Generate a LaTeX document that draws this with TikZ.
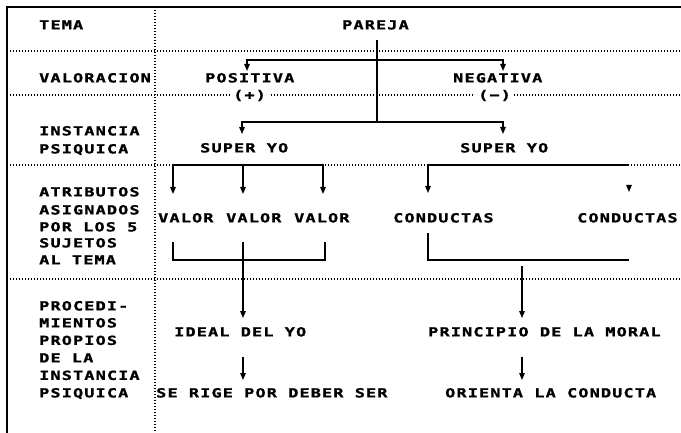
\documentclass[tikz,border=0pt]{standalone}
\usepackage{fontspec}
\newfontfamily\dm{DejaVu Sans Mono Bold}[FakeStretch=1.35,LetterSpace=9,FakeBold=1.2]
\usetikzlibrary{arrows.meta}
\begin{document}
\begin{tikzpicture}[x=1pt,y=-1pt,
  lbl/.style={inner sep=0pt, anchor=base west, font=\dm\fontsize{12.5}{14}\selectfont},
  sgn/.style={lbl, fill=white, inner xsep=3pt},
  border/.style={line width=1.6pt},
  dotline/.style={line width=1.4pt, dash pattern=on 1.4pt off 1.6pt},
  conn/.style={line width=1.3pt},
  tip/.style={-{Triangle[length=7pt,width=5.5pt]}},
  arr/.style={conn, tip},
  barr/.style={conn, {Triangle[length=7pt,width=5.5pt]}-{Triangle[length=7pt,width=5.5pt]}},
]
\fill[white] (0,0) rectangle (681,433);
\useasboundingbox (0,0) rectangle (681,433);

% frame and grid
\coordinate (tl) at (7,7);
\coordinate (tr) at (681,7);
\coordinate (bl) at (7,433);
\coordinate (ct) at (155,7);
\coordinate (cb) at (155,433);
\draw[border] (tr) -- (tl) -- (bl);
\draw[dotline] (ct) -- (cb);
\foreach \yy/\nm in {51/ra,95/rb,165/rc,279/rd}{
  \coordinate (\nm l) at (7,\yy);
  \coordinate (\nm r) at (681,\yy);
  \draw[dotline] (\nm l) -- (\nm r);
}

% left column
\node[lbl] (tema) at (39,29.4) {TEMA};
\node[lbl] (valoracion) at (39,82.4) {VALORACION};
\node[lbl] (inst1) at (39,135.4) {INSTANCIA};
\node[lbl] (psiq1) at (39,153.4) {PSIQUICA};
\node[lbl] (atr1) at (39,196.4) {ATRIBUTOS};
\node[lbl] (atr2) at (39,214.4) {ASIGNADOS};
\node[lbl] (atr3) at (39,231.4) {POR LOS 5};
\node[lbl] (atr4) at (39,247.4) {SUJETOS};
\node[lbl] (atr5) at (39,264.4) {AL TEMA};
\node[lbl] (pro1) at (39,310.4) {PROCEDI-};
\node[lbl] (pro2) at (39,327.4) {MIENTOS};
\node[lbl] (pro3) at (39,344.9) {PROPIOS};
\node[lbl] (pro4) at (39,362.4) {DE LA};
\node[lbl] (pro5) at (39,379.9) {INSTANCIA};
\node[lbl] (pro6) at (39,397.4) {PSIQUICA};

% right part
\node[lbl] (pareja) at (342,29.4) {PAREJA};
\node[lbl] (positiva) at (205,82.4) {POSITIVA};
\node[lbl] (negativa) at (453,82.4) {NEGATIVA};
\node[sgn] (mas) at (230,99.4) {(+)};
\node[sgn] (menos) at (475,99.4) {(−)};
\node[lbl] (syo1) at (200,152.4) {SUPER YO};
\node[lbl] (syo2) at (460,152.4) {SUPER YO};
\node[lbl] (val1) at (158,222.4) {VALOR};
\node[lbl] (val2) at (226,222.4) {VALOR};
\node[lbl] (val3) at (294,222.4) {VALOR};
\node[lbl] (con1) at (393,222.4) {CONDUCTAS};
\node[lbl] (con2) at (577,222.4) {CONDUCTAS};
\node[lbl] (ideal) at (174,336.4) {IDEAL DEL YO};
\node[lbl] (rige) at (156,397.4) {SE RIGE POR DEBER SER};
\node[lbl] (princ) at (428,336.4) {PRINCIPIO DE LA MORAL};
\node[lbl] (orienta) at (445,397.4) {ORIENTA LA CONDUCTA};

% connector points
\coordinate (p0) at (377,40);
\coordinate (p1) at (377,122);
\coordinate (a1) at (247,71);  \coordinate (a1t) at (247,60);
\coordinate (a2) at (503,71);  \coordinate (a2t) at (503,60);
\coordinate (b1) at (242,134); \coordinate (b1t) at (242,122);
\coordinate (b2) at (503,134); \coordinate (b2t) at (503,122);
\coordinate (c1) at (173,194); \coordinate (c1t) at (173,165);
\coordinate (c2) at (243,194); \coordinate (c2t) at (243,165);
\coordinate (c3) at (323,194); \coordinate (c3t) at (323,165);
\coordinate (d1) at (428,193); \coordinate (d1t) at (428,165);
\coordinate (d2t) at (629,165);
\coordinate (d2a) at (629,185); \coordinate (d2) at (629,192);
\coordinate (e1) at (173,242); \coordinate (e1b) at (173,260);
\coordinate (e3) at (325,242); \coordinate (e3b) at (325,260);
\coordinate (e2) at (243,242); \coordinate (e2b) at (243,318);
\coordinate (f1) at (428,233); \coordinate (f1b) at (428,260);
\coordinate (f3b) at (629,260);
\coordinate (f2) at (522,266); \coordinate (f2b) at (522,318);
\coordinate (g1) at (243,357); \coordinate (g1b) at (243,380);
\coordinate (h1) at (522,357); \coordinate (h1b) at (522,380);

% connectors
\draw[conn] (p0) -- (p1);
\draw[barr] (a1) -- (a1t) -- (a2t) -- (a2);
\draw[barr] (b1) -- (b1t) -- (b2t) -- (b2);
\draw[barr] (c1) -- (c1t) -- (c3t) -- (c3);
\draw[arr] (c2t) -- (c2);
\draw[conn, {Triangle[length=7pt,width=5.5pt]}-] (d1) -- (d1t) -- (d2t);
\draw[arr] (d2a) -- (d2);
\draw[conn] (e1) -- (e1b) -- (e3b) -- (e3);
\draw[arr] (e2) -- (e2b);
\draw[conn] (f1) -- (f1b) -- (f3b);
\draw[arr] (f2) -- (f2b);
\draw[arr] (g1) -- (g1b);
\draw[arr] (h1) -- (h1b);
\end{tikzpicture}
\end{document}
